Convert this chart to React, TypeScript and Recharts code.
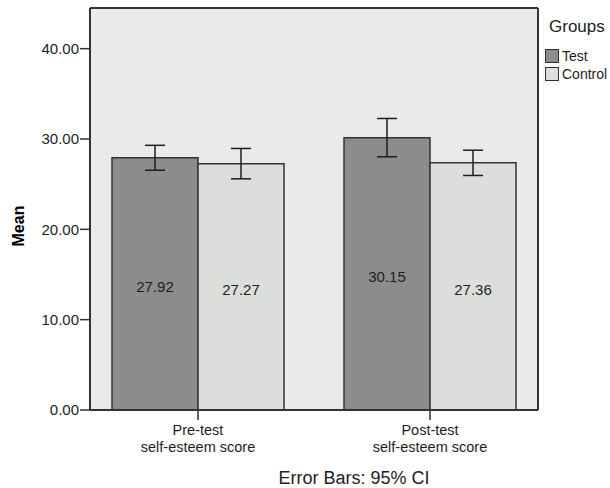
import React from 'react';
import { BarChart, Bar, XAxis, YAxis, ErrorBar, LabelList, CartesianGrid, Legend } from 'recharts';

const categoryLines = [
  ['Pre-test', 'self-esteem score'],
  ['Post-test', 'self-esteem score'],
];
const testMeans = [27.92, 30.15];
const controlMeans = [27.27, 27.36];
const testCI = [1.38, 2.12];
const controlCI = [1.68, 1.4];
const yTicks = [0, 10, 20, 30, 40];
const seriesNames = ['Test', 'Control'];
const seriesColors = ['#8c8c8c', '#dcdedc'];

const data = categoryLines.map((lines, i) => ({
  category: lines.join('\n'),
  test: testMeans[i],
  control: controlMeans[i],
  testErr: testCI[i],
  controlErr: controlCI[i],
}));

const FONT = '"Liberation Sans", Arial, sans-serif';
const INK = '#1e1e1e';
const FRAME = '#333333';

const CategoryTick = (props: any) => {
  const { x, y, payload } = props;
  const lines = String(payload.value).split('\n');
  return (
    <text x={x} y={y} textAnchor="middle" fill={INK} fontSize={14.5} fontFamily={FONT}>
      {lines.map((l: string, i: number) => (
        <tspan key={i} x={x} dy={i === 0 ? 13 : 17}>
          {l}
        </tspan>
      ))}
    </text>
  );
};

const MeanLabel = (props: any) => {
  const vb = props.viewBox || {};
  const cx = vb.x + 18;
  const cy = vb.y + vb.height / 2 + 17;
  return (
    <text
      x={cx}
      y={cy}
      transform={`rotate(-90, ${cx}, ${cy})`}
      textAnchor="middle"
      dominantBaseline="central"
      fontSize={16}
      fontWeight="bold"
      fontFamily={FONT}
      fill="#000"
    >
      Mean
    </text>
  );
};

const FootLabel = (props: any) => {
  const vb = props.viewBox || {};
  return (
    <text x={vb.x + vb.width / 2 + 40} y={vb.y + vb.height - 4} textAnchor="middle" fontSize={18} fontFamily={FONT} fill={INK}>
      Error Bars: 95% CI
    </text>
  );
};

const ValueLabel = (props: any) => {
  const { x, y, width, height, value } = props;
  return (
    <text x={x + width / 2} y={y + height / 2 + 3} textAnchor="middle" dominantBaseline="central" fontSize={15} fontFamily={FONT} fill={INK}>
      {Number(value).toFixed(2)}
    </text>
  );
};

const LegendContent = () => (
  <div style={{ fontFamily: FONT, color: INK, position: 'relative', width: 0, height: 0 }}>
    <div style={{ position: 'absolute', left: 9, top: 17, fontSize: 17, lineHeight: '20px', whiteSpace: 'nowrap' }}>Groups</div>
    {seriesNames.map((n, i) => (
      <div
        key={n}
        style={{ position: 'absolute', left: 5, top: 48 + i * 18, display: 'flex', alignItems: 'center', fontSize: 14, lineHeight: '16px', whiteSpace: 'nowrap' }}
      >
        <span style={{ display: 'inline-block', width: 12, height: 12, background: seriesColors[i], border: `1px solid ${FRAME}`, marginRight: 3 }} />
        <span>{n}</span>
      </div>
    ))}
  </div>
);

export default function App() {
  return (
    <div style={{ position: 'absolute', left: 0, top: 0, width: 610, height: 488, background: '#fff', overflow: 'hidden' }}>
      <BarChart
        width={610}
        height={488}
        data={data}
        margin={{ top: 8, right: 72, bottom: 0, left: 0 }}
        barCategoryGap={30}
        barGap={0}
      >
        <CartesianGrid
          fill="#eaeaea"
          stroke={FRAME}
          strokeWidth={2}
          horizontalCoordinatesGenerator={(p: any) => [p.offset.top]}
          verticalCoordinatesGenerator={(p: any) => [p.offset.left + p.offset.width]}
        />
        <XAxis
          dataKey="category"
          height={78}
          padding={{ left: -8, right: -8 }}
          tickSize={10}
          tickMargin={2}
          tick={<CategoryTick />}
          axisLine={{ stroke: FRAME, strokeWidth: 2 }}
          tickLine={{ stroke: FRAME, strokeWidth: 1.5 }}
          interval={0}
          label={<FootLabel />}
        />
        <YAxis
          width={90}
          domain={[0, 44.5]}
          ticks={yTicks}
          allowDataOverflow
          tickFormatter={(v: number) => v.toFixed(2)}
          tickSize={10}
          tickMargin={1}
          tick={{ fill: INK, fontSize: 15, fontFamily: FONT }}
          axisLine={{ stroke: FRAME, strokeWidth: 2 }}
          tickLine={{ stroke: FRAME, strokeWidth: 1.5 }}
          label={<MeanLabel />}
        />
        <Legend
          layout="vertical"
          verticalAlign="middle"
          align="center"
          wrapperStyle={{ left: 540, top: 0, width: 0, height: 0 }}
          content={<LegendContent />}
        />
        <Bar dataKey="test" name="Test" fill={seriesColors[0]} stroke={FRAME} strokeWidth={1.5} isAnimationActive={false}>
          <LabelList dataKey="test" content={<ValueLabel />} />
          <ErrorBar dataKey="testErr" direction="y" width={10} stroke={INK} strokeWidth={1.5} />
        </Bar>
        <Bar dataKey="control" name="Control" fill={seriesColors[1]} stroke={FRAME} strokeWidth={1.5} isAnimationActive={false}>
          <LabelList dataKey="control" content={<ValueLabel />} />
          <ErrorBar dataKey="controlErr" direction="y" width={10} stroke={INK} strokeWidth={1.5} />
        </Bar>
      </BarChart>
    </div>
  );
}
